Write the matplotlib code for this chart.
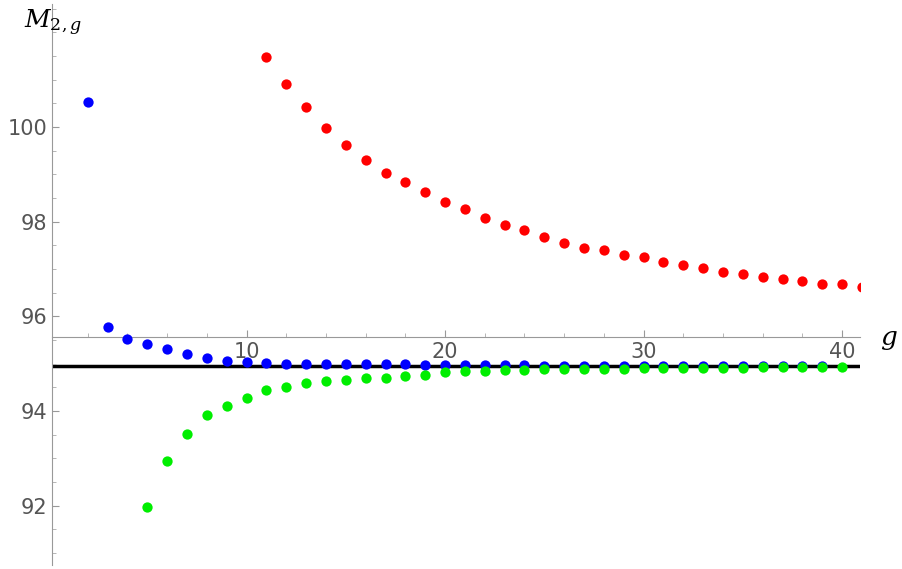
import matplotlib
matplotlib.use("Agg")
import matplotlib.pyplot as plt
import numpy as np

red_g = list(range(11, 42))
red_v = [101.48, 100.9, 100.42, 99.98, 99.62, 99.3, 99.03, 98.83, 98.62, 98.41, 98.27, 98.08,
         97.93, 97.83, 97.68, 97.55, 97.45, 97.41, 97.3, 97.26, 97.15, 97.09, 97.03, 96.94,
         96.9, 96.84, 96.8, 96.74, 96.69, 96.68, 96.62]
blue_g = list(range(2, 40))
blue_v = [100.53, 95.78, 95.53, 95.42, 95.31, 95.2, 95.12, 95.06, 95.03, 95.01, 95.0, 95.0,
          95.0, 95.0, 94.99, 94.99, 94.99, 94.98, 94.98, 94.97, 94.97, 94.97, 94.97, 94.96,
          94.96, 94.96, 94.96, 94.96, 94.96, 94.96, 94.96, 94.96, 94.96, 94.96, 94.96, 94.96,
          94.96, 94.96]
green_g = list(range(5, 41))
green_v = [91.98, 92.95, 93.52, 93.92, 94.11, 94.28, 94.45, 94.51, 94.6, 94.64, 94.66, 94.69,
           94.71, 94.75, 94.77, 94.82, 94.84, 94.85, 94.86, 94.87, 94.88, 94.89, 94.89, 94.9,
           94.9, 94.91, 94.91, 94.91, 94.92, 94.92, 94.92, 94.93, 94.93, 94.93, 94.93, 94.94]
limit = 94.95
yticks = [92, 94, 96, 98, 100]
xticks = [10, 20, 30, 40]

plt.rcParams["mathtext.fontset"] = "dejavuserif"
fig = plt.figure(figsize=(9.02, 5.69), dpi=100)
ax = fig.add_axes([52/902, 4/569, (860-52)/902, (565-4)/569])
ax.set_xlim(0.2, 40.9)
ax.set_ylim(90.75, 102.6)
ax.axhline(limit, color="black", lw=2.5, zorder=1)
for g, v, c in [(red_g, red_v, "#ff0000"), (blue_g, blue_v, "#0000ff"), (green_g, green_v, "#00ee00")]:
    ax.scatter(g, v, s=55, color=c, zorder=3, clip_on=True, linewidths=0)
for s in ["top", "right"]:
    ax.spines[s].set_visible(False)
ax.spines["bottom"].set_position(("data", 95.56))
for s in ["left", "bottom"]:
    ax.spines[s].set_color("#999999")
ax.set_xticks(xticks)
ax.set_yticks(yticks)
ax.set_xticks(np.arange(2, 41, 2), minor=True)
ax.set_yticks(np.arange(91, 102.6, 0.5), minor=True)
ax.tick_params(colors="#999999", labelcolor="#555555", labelsize=15, length=5, direction="in")
ax.tick_params(which="minor", colors="#aaaaaa", length=3, direction="in")
fig.text(24/902, 1 - 8/569, r"$M_{2,g}$", fontsize=18, ha="left", va="top")
fig.text(898/902, 1 - 352/569, r"$g$", fontsize=19, ha="right", va="bottom")
fig.savefig("out.png", dpi=100)
